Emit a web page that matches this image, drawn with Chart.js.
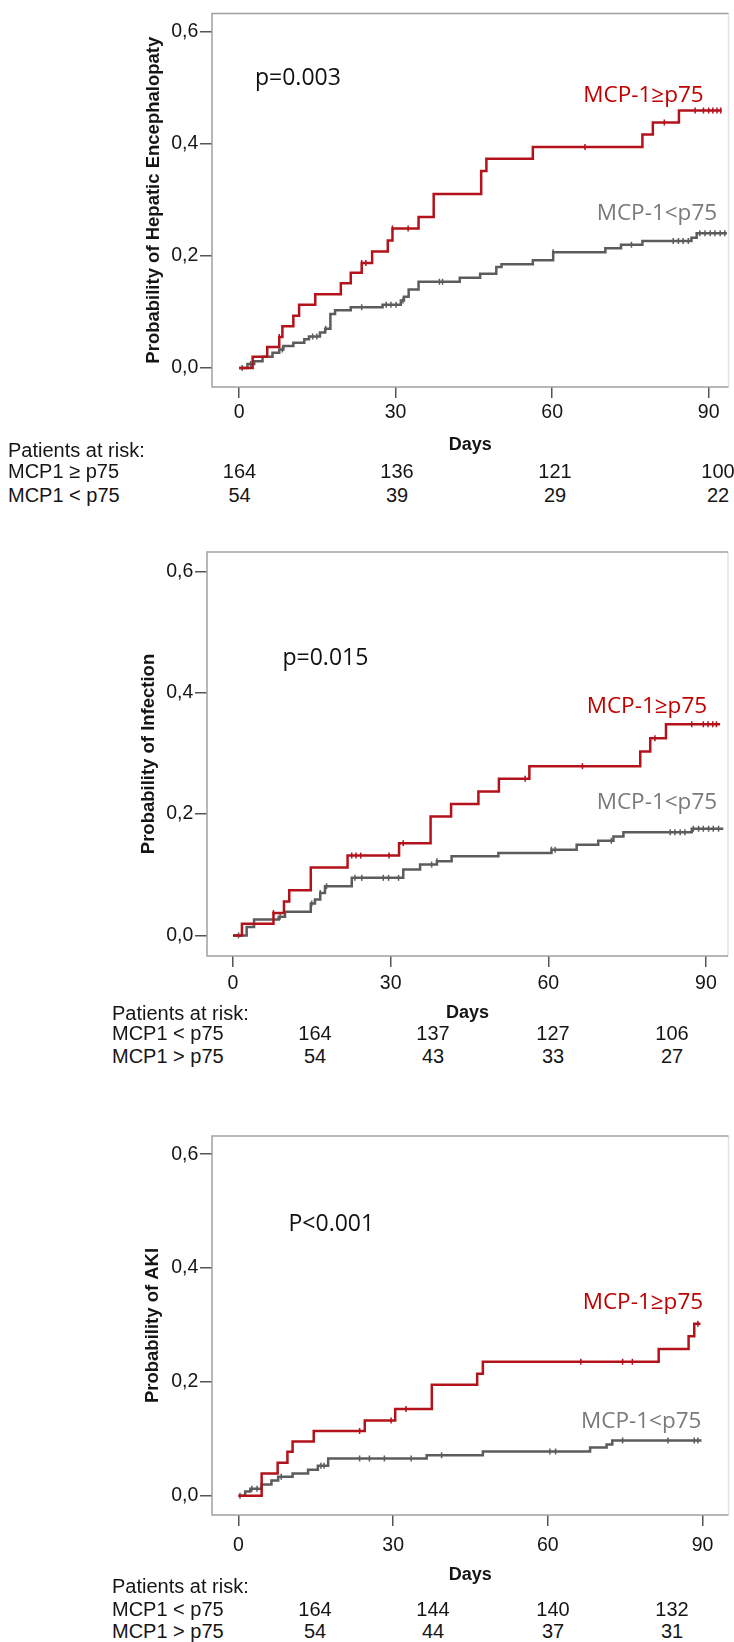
<!DOCTYPE html>
<html>
<head>
<meta charset="utf-8">
<script src="https://cdn.jsdelivr.net/npm/chart.js@4.4.0/dist/chart.umd.min.js"></script>
<style>
  body { margin: 0; background: #fff; width: 734px; height: 1642px; position: relative; overflow: hidden;
         font-family: 'Liberation Sans', Arial, sans-serif; }
  canvas { position: absolute; left: 0; }
  .rt { position: absolute; font-size: 20px; line-height: 22px; color: #151515; white-space: nowrap; }
  .num { transform: translateX(-50%); }
</style>
</head>
<body>
<canvas id="he" width="734" height="460" style="top:0px"></canvas>
<canvas id="inf" width="734" height="508" style="top:520px"></canvas>
<canvas id="aki" width="734" height="490" style="top:1100px"></canvas>
<script>
'use strict';

// axis ticks
const dayTicks = [0, 30, 60, 90];
const probTicks = [0, 0.2, 0.4, 0.6];

// Hepatic encephalopathy
const heHighTimes = [0, 2.6, 5.4, 7.7, 8.3, 10.4, 11.5, 14.6, 19.5, 21.4, 23.5, 25.5, 28.5, 29.4, 34.4, 37.3, 46.4, 47.4, 56.3, 77.3, 79.3, 84.3, 92.5];
const heHighProb  = [0, 0.020, 0.0375, 0.055, 0.0745, 0.093, 0.1126, 0.1314, 0.1508, 0.1695, 0.187, 0.2076, 0.227, 0.2487, 0.269, 0.310, 0.351, 0.373, 0.394, 0.416, 0.4376, 0.4587, 0.4587];
const heHighCensored = [7.7, 23.5, 24.3, 29.4, 32.4, 66.3, 81.5, 87.4, 89.0, 90.0, 90.8, 91.6, 92.3];
const heLowTimes = [0, 1.6, 2.9, 4.5, 6.4, 7.7, 8.5, 10.4, 12.5, 13.4, 15.5, 16.5, 17.5, 18.4, 21.4, 27.5, 31.0, 31.6, 32.5, 34.4, 42.3, 46.2, 49.3, 50.3, 56.3, 60.2, 70.2, 73.2, 77.3, 86.7, 87.7, 93.5];
const heLowProb  = [0, 0.007, 0.012, 0.020, 0.027, 0.033, 0.039, 0.045, 0.051, 0.056, 0.063, 0.070, 0.096, 0.103, 0.108, 0.1126, 0.12, 0.127, 0.140, 0.1537, 0.1607, 0.1677, 0.180, 0.185, 0.192, 0.206, 0.2135, 0.2194, 0.2264, 0.232, 0.240, 0.240];
const heLowCensored = [0.6, 2.2, 8.3, 14.1, 14.9, 16.6, 23.5, 28.2, 29.1, 30.1, 31.4, 38.4, 39.0, 60.2, 75.2, 83.2, 84.2, 85.1, 86.1, 88.3, 89.3, 90.3, 91.2, 92.2, 93.1];
const heRiskHigh = [164, 136, 121, 100];
const heRiskLow = [54, 39, 29, 22];

// Infection
const infHighTimes = [0, 1.7, 7.7, 9.7, 10.7, 14.8, 21.8, 31.6, 37.6, 41.5, 46.7, 50.6, 56.4, 77.5, 79.4, 82.4, 92.7];
const infHighProb  = [0, 0.019, 0.037, 0.056, 0.0745, 0.112, 0.1315, 0.152, 0.196, 0.2164, 0.237, 0.258, 0.279, 0.303, 0.325, 0.348, 0.348];
const infHighCensored = [7.7, 22.6, 23.4, 24.3, 29.7, 32.4, 55.6, 66.5, 80.3, 87.3, 89.5, 90.4, 91.3, 92.0];
const infLowTimes = [0, 2.6, 4.0, 8.7, 9.9, 14.8, 15.6, 16.6, 17.5, 22.6, 32.4, 35.6, 38.8, 41.6, 50.5, 60.6, 65.4, 69.5, 72.4, 74.3, 87.3, 93.3];
const infLowProb  = [0, 0.0137, 0.0263, 0.0307, 0.039, 0.0526, 0.059, 0.070, 0.081, 0.0948, 0.1084, 0.1167, 0.122, 0.1303, 0.1358, 0.1413, 0.1495, 0.156, 0.163, 0.170, 0.1758, 0.1758];
const infLowCensored = [1.05, 8.97, 14.99, 16.6, 17.8, 23.2, 24.5, 28.6, 29.6, 31.5, 37.8, 38.8, 60.6, 61.3, 72.0, 83.2, 84.1, 85.1, 86.0, 87.6, 88.6, 89.5, 90.5, 91.4, 92.4];
const infRiskLow = [164, 137, 127, 106];
const infRiskHigh = [54, 43, 33, 27];

// AKI
const akiHighTimes = [0, 4.5, 7.6, 9.5, 10.5, 14.6, 24.5, 30.4, 37.5, 46.3, 47.4, 81.5, 87.3, 88.4, 89.6];
const akiHighProb  = [0, 0.039, 0.058, 0.077, 0.095, 0.1135, 0.132, 0.1524, 0.195, 0.214, 0.2355, 0.2575, 0.280, 0.302, 0.302];
const akiHighCensored = [23.5, 29.6, 32.5, 66.4, 74.5, 76.4, 89.1];
const akiLowTimes = [0, 1.3, 2.3, 4.5, 6.4, 7.7, 10.5, 13.5, 15.4, 17.4, 36.5, 47.4, 68.2, 71.4, 72.5, 89.8];
const akiLowProb  = [0, 0.0073, 0.012, 0.0195, 0.0265, 0.0334, 0.039, 0.0456, 0.0526, 0.0653, 0.071, 0.0775, 0.0845, 0.090, 0.097, 0.097];
const akiLowCensored = [0.3, 2.6, 3.6, 8.3, 16.0, 16.6, 23.5, 25.4, 28.3, 33.5, 39.4, 60.4, 61.5, 74.5, 83.3, 88.4, 89.1];
const akiRiskLow = [164, 144, 140, 132];
const akiRiskHigh = [54, 44, 37, 31];

const RED = '#b3121a', RED_TEXT = '#c00000';
const GREY = '#5c5c5c', GREY_TEXT = '#7a7a7a';
const SANS = "'Liberation Sans', Arial, sans-serif";
const LABEL_FONT = "22.5px 'Open Sans', 'Noto Sans', sans-serif";
const P_FONT = "23px 'Open Sans', 'Noto Sans', sans-serif";

function stepAt(times, probs, t) {
  let v = probs[0];
  for (let i = 0; i < times.length; i++) {
    if (times[i] <= t) v = probs[i];
  }
  return v;
}

function curve(times, probs, color) {
  return {
    data: times.map((t, i) => ({x: t, y: probs[i]})),
    stepped: true,
    borderColor: color,
    borderWidth: 2.5,
    pointRadius: 0,
    fill: false
  };
}

function censorMarks(cens, times, probs, color) {
  return {
    data: cens.map(t => ({x: t, y: stepAt(times, probs, t)})),
    showLine: false,
    pointStyle: 'line',
    pointRotation: 90,
    pointRadius: 3,
    pointBorderWidth: 1.5,
    pointBorderColor: color,
    borderColor: color
  };
}

// frame box and in-plot text
const annotate = {
  id: 'annotate',
  beforeDatasetsDraw(chart) {
    const {ctx, chartArea: a} = chart;
    ctx.save();
    ctx.lineWidth = 1.5;
    ctx.strokeStyle = '#e2e2e2';
    ctx.beginPath();
    ctx.moveTo(a.right, a.top);
    ctx.lineTo(a.right, a.bottom);
    ctx.stroke();
    ctx.strokeStyle = '#a0a0a0';
    ctx.beginPath();
    ctx.moveTo(a.right, a.top);
    ctx.lineTo(a.left, a.top);
    ctx.lineTo(a.left, a.bottom);
    ctx.lineTo(a.right, a.bottom);
    ctx.stroke();
    ctx.restore();
  },
  afterDatasetsDraw(chart, args, opts) {
    const ctx = chart.ctx;
    ctx.save();
    ctx.textBaseline = 'alphabetic';
    (opts.texts || []).forEach(t => {
      ctx.font = t.font || LABEL_FONT;
      ctx.fillStyle = t.color;
      ctx.fillText(t.text, t.x, t.y);
    });
    ctx.restore();
  }
};

function makePanel(id, p) {
  const ctx = document.getElementById(id).getContext('2d');
  return new Chart(ctx, {
    type: 'line',
    data: {
      datasets: [
        curve(p.highTimes, p.highProb, RED),
        censorMarks(p.highCens, p.highTimes, p.highProb, RED),
        curve(p.lowTimes, p.lowProb, GREY),
        censorMarks(p.lowCens, p.lowTimes, p.lowProb, GREY)
      ]
    },
    options: {
      responsive: false,
      animation: false,
      devicePixelRatio: 1,
      layout: {padding: p.padding},
      plugins: {
        legend: {display: false},
        tooltip: {enabled: false},
        annotate: {texts: p.texts}
      },
      scales: {
        x: {
          type: 'linear',
          min: p.xMin,
          max: p.xMax,
          afterBuildTicks: s => { s.ticks = dayTicks.map(v => ({value: v})); },
          afterFit: s => { s.height = p.xHeight; },
          ticks: {
            font: {family: SANS, size: 19.5, lineHeight: 1.2},
            color: '#151515',
            padding: p.xTickPad,
            maxRotation: 0,
            autoSkip: false,
            callback: v => String(v)
          },
          grid: {drawOnChartArea: false, drawTicks: true, tickLength: 11, color: '#555', lineWidth: 1.5},
          border: {display: false},
          title: {
            display: true,
            text: 'Days',
            color: '#151515',
            font: {family: SANS, size: 18, weight: 'bold', lineHeight: 1.2},
            padding: {top: 0, bottom: 4.2}
          }
        },
        y: {
          min: -0.034,
          max: 0.632,
          afterBuildTicks: s => { s.ticks = probTicks.map(v => ({value: v})); },
          afterFit: s => { s.width = p.yWidth; },
          ticks: {
            font: {family: SANS, size: 19.5},
            color: '#151515',
            padding: 1.7,
            autoSkip: false,
            callback: v => v.toFixed(1).replace('.', ',')
          },
          grid: {drawOnChartArea: false, drawTicks: true, tickLength: 12, color: '#555', lineWidth: 1.5},
          border: {display: false},
          title: {
            display: true,
            text: p.yTitle,
            color: '#151515',
            font: {family: SANS, size: 18.5, weight: 'bold', lineHeight: 1},
            padding: {top: 0, bottom: 0}
          }
        }
      }
    },
    plugins: [annotate]
  });
}

makePanel('he', {
  highTimes: heHighTimes, highProb: heHighProb, highCens: heHighCensored,
  lowTimes: heLowTimes, lowProb: heLowProb, lowCens: heLowCensored,
  xMin: -5.19, xMax: 93.8,
  padding: {top: 9, right: 5.5, bottom: 0, left: 144.25},
  yWidth: 67.75, xHeight: 73, xTickPad: 2.6,
  yTitle: 'Probability of Hepatic Encephalopaty',
  texts: [
    {text: 'p=0.003', x: 255, y: 85, color: '#111', font: P_FONT},
    {text: 'MCP-1≥p75', x: 583.3, y: 101.7, color: RED_TEXT},
    {text: 'MCP-1<p75', x: 596.7, y: 220, color: GREY_TEXT}
  ]
});

makePanel('inf', {
  highTimes: infHighTimes, highProb: infHighProb, highCens: infHighCensored,
  lowTimes: infLowTimes, lowProb: infLowProb, lowCens: infLowCensored,
  xMin: -4.95, xMax: 94.2,
  padding: {top: 32, right: 6, bottom: 0, left: 139.25},
  yWidth: 67.75, xHeight: 72, xTickPad: 4.6,
  yTitle: 'Probability of Infection',
  texts: [
    {text: 'p=0.015', x: 282.5, y: 145, color: '#111', font: P_FONT},
    {text: 'MCP-1≥p75', x: 586.7, y: 193.3, color: RED_TEXT},
    {text: 'MCP-1<p75', x: 596.7, y: 289.3, color: GREY_TEXT}
  ]
});

makePanel('aki', {
  highTimes: akiHighTimes, highProb: akiHighProb, highCens: akiHighCensored,
  lowTimes: akiLowTimes, lowProb: akiLowProb, lowCens: akiLowCensored,
  xMin: -5.13, xMax: 95.04,
  padding: {top: 36, right: 5, bottom: 0, left: 143.25},
  yWidth: 68.75, xHeight: 75, xTickPad: 7.6,
  yTitle: 'Probability of AKI',
  texts: [
    {text: 'P<0.001', x: 288.5, y: 131, color: '#111', font: P_FONT},
    {text: 'MCP-1≥p75', x: 582.7, y: 209.3, color: RED_TEXT},
    {text: 'MCP-1<p75', x: 581, y: 328.3, color: GREY_TEXT}
  ]
});

// patients-at-risk tables
function addText(txt, x, y, centered) {
  const d = document.createElement('div');
  d.className = centered ? 'rt num' : 'rt';
  d.textContent = txt;
  d.style.left = x + 'px';
  d.style.top = (y - 11) + 'px';
  document.body.appendChild(d);
}

function riskTable(t) {
  addText('Patients at risk:', t.left, t.headY, false);
  t.rows.forEach((r, i) => {
    addText(r.label, t.left, t.rowY[i], false);
    r.values.forEach((v, j) => addText(String(v), t.cols[j], t.rowY[i], true));
  });
}

riskTable({
  left: 8, headY: 450, rowY: [471, 495], cols: [239.5, 397, 555, 718],
  rows: [{label: 'MCP1 ≥ p75', values: heRiskHigh}, {label: 'MCP1 < p75', values: heRiskLow}]
});
riskTable({
  left: 112, headY: 1013, rowY: [1033, 1056], cols: [315, 433, 553, 672],
  rows: [{label: 'MCP1 < p75', values: infRiskLow}, {label: 'MCP1 > p75', values: infRiskHigh}]
});
riskTable({
  left: 112, headY: 1586, rowY: [1609, 1631], cols: [315, 433, 553, 672],
  rows: [{label: 'MCP1 < p75', values: akiRiskLow}, {label: 'MCP1 > p75', values: akiRiskHigh}]
});
</script>
</body>
</html>
